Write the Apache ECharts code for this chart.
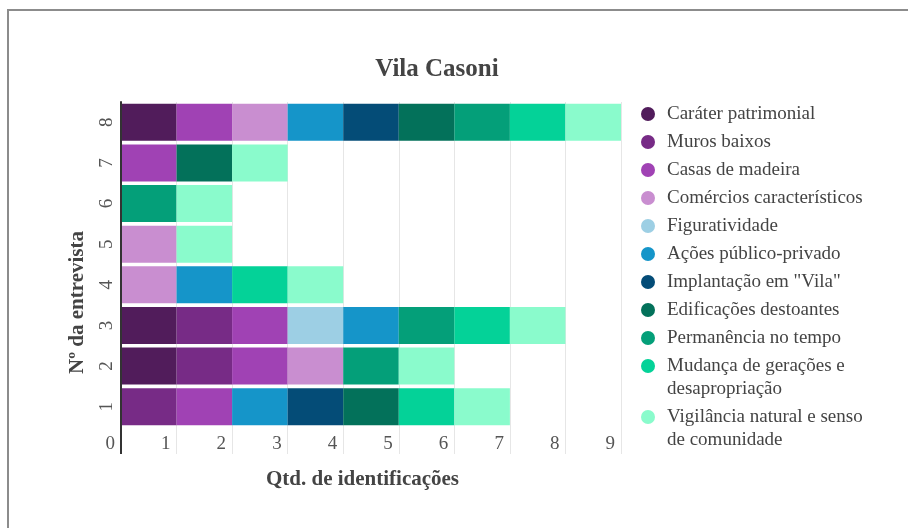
<!DOCTYPE html>
<html>
<head>
<meta charset="utf-8">
<script src="https://cdn.jsdelivr.net/npm/echarts@6/dist/echarts.min.js"></script>
<style>
  html, body { margin: 0; padding: 0; background: #fff; }
  #main { position: absolute; left: 0; top: 0; width: 908px; height: 528px; }
  #frame { position: absolute; left: 7px; top: 9px; width: 920px; height: 540px;
           border-top: 2px solid #8c8c8c; border-left: 2px solid #8c8c8c; }
</style>
</head>
<body>
<div id="frame"></div>
<div id="main"></div>
<script>
// entrevistas (eixo vertical)
var categories = ['1', '2', '3', '4', '5', '6', '7', '8'];
var xTicks = [0, 1, 2, 3, 4, 5, 6, 7, 8, 9];

// uma linha por aspecto: 1 = identificado na entrevista
var seriesNames = [
    'Caráter patrimonial',
    'Muros baixos',
    'Casas de madeira',
    'Comércios característicos',
    'Figuratividade',
    'Ações público-privado',
    'Implantação em "Vila"',
    'Edificações destoantes',
    'Permanência no tempo',
    'Mudança de gerações e\ndesapropriação',
    'Vigilância natural e senso\nde comunidade'
];
var carater      = [0, 1, 1, 0, 0, 0, 0, 1];
var muros        = [1, 1, 1, 0, 0, 0, 0, 0];
var casas        = [1, 1, 1, 0, 0, 0, 1, 1];
var comercios    = [0, 1, 0, 1, 1, 0, 0, 1];
var figurat      = [0, 0, 1, 0, 0, 0, 0, 0];
var acoes        = [1, 0, 1, 1, 0, 0, 0, 1];
var implantacao  = [1, 0, 0, 0, 0, 0, 0, 1];
var edificacoes  = [1, 0, 0, 0, 0, 0, 1, 1];
var permanencia  = [0, 1, 1, 0, 0, 1, 0, 1];
var mudanca      = [1, 0, 1, 1, 0, 0, 0, 1];
var vigilancia   = [1, 1, 1, 1, 1, 1, 1, 1];

var seriesData = [carater, muros, casas, comercios, figurat, acoes,
                  implantacao, edificacoes, permanencia, mudanca, vigilancia];
var colors = ['#511c5b', '#772b86', '#a042b4', '#c98ed0', '#9dcfe4', '#1595c9',
              '#044c77', '#03715a', '#049f79', '#04d298', '#8afbcc'];

var FONT = '"Liberation Serif", "Times New Roman", serif';
var GRID_TOP = 102, GRID_H = 325, GRID_LEFT = 121;

var series = seriesNames.map(function(name, i) {
    return {
        name: name,
        type: 'bar',
        stack: 'total',
        barCategoryGap: '9%',
        itemStyle: { color: colors[i] },
        // zero = sem segmento
        data: seriesData[i].map(function(v) { return v ? v : '-'; })
    };
});

// legenda: itens de uma linha, e os dois de duas linhas à parte
// (uma linha vazia antes do texto deixa o ícone alinhado à 1ª linha)
function legendBase(names, top) {
    return {
        data: names,
        orient: 'vertical',
        left: 641,
        top: top,
        padding: 0,
        icon: 'circle',
        itemWidth: 14,
        itemHeight: 14,
        itemGap: 5,
        selectedMode: false,
        formatter: function(name) {
            return name.indexOf('\n') >= 0 ? ' \n' + name : name;
        },
        textStyle: { fontFamily: FONT, fontSize: 19, color: '#444', lineHeight: 23, padding: [0, 0, 0, 7] }
    };
}

var option = {
    animation: false,
    color: colors,
    title: {
        text: 'Vila Casoni',
        left: 432,
        top: 52,
        textAlign: 'center',
        textStyle: { fontFamily: FONT, fontSize: 25, fontWeight: 'bold', color: '#444' }
    },
    legend: [
        legendBase(seriesNames.slice(0, 9), 102.5),
        legendBase([seriesNames[9]], 331.5),
        legendBase([seriesNames[10]], 382.5)
    ],
    grid: { left: GRID_LEFT, right: 287, top: GRID_TOP, height: GRID_H, containLabel: false },
    xAxis: {
        type: 'value',
        min: 0,
        max: 9,
        interval: 1,
        name: 'Qtd. de identificações',
        nameLocation: 'middle',
        nameGap: 42,
        nameTextStyle: { fontFamily: FONT, fontSize: 21, fontWeight: 'bold', color: '#444', padding: [0, 17, 0, 0] },
        axisLine: { show: false },
        axisTick: { show: true, length: 27, lineStyle: { color: '#e6e6e6' } },
        splitLine: { show: true, lineStyle: { color: '#e6e6e6' } },
        axisLabel: {
            fontFamily: FONT, fontSize: 19, color: '#555',
            align: 'right', padding: [0, 6, 0, 0], margin: 8,
            formatter: function(v) { return xTicks.indexOf(v) >= 0 ? String(v) : ''; }
        }
    },
    yAxis: {
        type: 'category',
        data: categories,
        name: 'Nº da entrevista',
        nameLocation: 'middle',
        nameGap: 33,
        nameRotate: 90,
        nameTextStyle: { fontFamily: FONT, fontSize: 21, fontWeight: 'bold', color: '#444', padding: [0, 76, 0, 0] },
        axisLine: { show: true, lineStyle: { color: '#333', width: 2 } },
        axisTick: { show: false },
        axisLabel: { fontFamily: FONT, fontSize: 19, color: '#555', rotate: 90, margin: 4 }
    },
    series: series
};

var chart = echarts.init(document.getElementById('main'), null, { renderer: 'canvas' });
chart.setOption(option);

// prolonga a linha do eixo vertical até a base dos rótulos
var x0 = chart.convertToPixel({ xAxisIndex: 0 }, 0);
chart.setOption({
    graphic: [{
        type: 'line',
        shape: { x1: x0, y1: GRID_TOP, x2: x0, y2: GRID_TOP + GRID_H + 27 },
        style: { stroke: '#333', lineWidth: 2 },
        z: 10
    }]
});
</script>
</body>
</html>
